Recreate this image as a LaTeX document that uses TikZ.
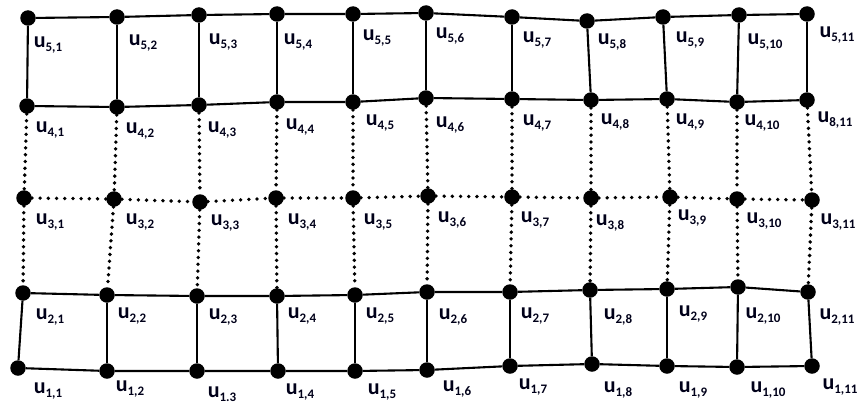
\documentclass[tikz,border=0pt]{standalone}
\usepackage{fontspec}
\setmainfont{Carlito}
\newcommand{\ssub}[1]{\raisebox{-3.5pt}{\fontsize{13}{13}\selectfont #1}}
\begin{document}
\begin{tikzpicture}[x=1pt,y=-1pt,
  dot/.style={circle,fill=black,draw=none,minimum size=15.5pt,inner sep=0pt},
  lab/.style={inner sep=0pt,font=\fontsize{22}{22}\selectfont\bfseries,text=black!90!blue},
  solidedge/.style={line width=2.1pt},
  hdots/.style={line width=3.8pt,line cap=round,dash pattern=on 0pt off 8.2pt},
  vdots/.style={line width=3.8pt,line cap=round,dash pattern=on 0pt off 6.8pt}]
\useasboundingbox (0,0) rectangle (861,404);
% row 5
\node[dot] (n51) at (28,18) {};
\node[dot] (n52) at (117,17) {};
\node[dot] (n53) at (199,15) {};
\node[dot] (n54) at (277,14) {};
\node[dot] (n55) at (353,14) {};
\node[dot] (n56) at (426,13) {};
\node[dot] (n57) at (512,17) {};
\node[dot] (n58) at (587,21) {};
\node[dot] (n59) at (663,17) {};
\node[dot] (n510) at (739,15) {};
\node[dot] (n511) at (807,14) {};
% row 4
\node[dot] (n41) at (27,106) {};
\node[dot] (n42) at (117,107) {};
\node[dot] (n43) at (199,105) {};
\node[dot] (n44) at (277,102) {};
\node[dot] (n45) at (353,102) {};
\node[dot] (n46) at (426,98) {};
\node[dot] (n47) at (512,99) {};
\node[dot] (n48) at (591,100) {};
\node[dot] (n49) at (667,99) {};
\node[dot] (n410) at (737,102) {};
\node[dot] (n411) at (807,100) {};
% row 3
\node[dot] (n31) at (24,198) {};
\node[dot] (n32) at (114,199) {};
\node[dot] (n33) at (200,202) {};
\node[dot] (n34) at (276,198) {};
\node[dot] (n35) at (353,198) {};
\node[dot] (n36) at (428,196) {};
\node[dot] (n37) at (512,197) {};
\node[dot] (n38) at (591,198) {};
\node[dot] (n39) at (670,197) {};
\node[dot] (n310) at (737,199) {};
\node[dot] (n311) at (812,200) {};
% row 2
\node[dot] (n21) at (23,293) {};
\node[dot] (n22) at (107,295) {};
\node[dot] (n23) at (197,296) {};
\node[dot] (n24) at (277,296) {};
\node[dot] (n25) at (355,295) {};
\node[dot] (n26) at (427,292) {};
\node[dot] (n27) at (510,292) {};
\node[dot] (n28) at (590,290) {};
\node[dot] (n29) at (667,289) {};
\node[dot] (n210) at (738,287) {};
\node[dot] (n211) at (808,292) {};
% row 1
\node[dot] (n11) at (18,368) {};
\node[dot] (n12) at (107,371) {};
\node[dot] (n13) at (197,371) {};
\node[dot] (n14) at (278,371) {};
\node[dot] (n15) at (355,371) {};
\node[dot] (n16) at (427,370) {};
\node[dot] (n17) at (510,366) {};
\node[dot] (n18) at (592,364) {};
\node[dot] (n19) at (667,366) {};
\node[dot] (n110) at (737,367) {};
\node[dot] (n111) at (812,366) {};

% solid edges: rows 5 and 4
\draw[solidedge] (n51)--(n52)--(n53)--(n54)--(n55)--(n56)--(n57)--(n58)--(n59)--(n510)--(n511);
\draw[solidedge] (n41)--(n42)--(n43)--(n44)--(n45)--(n46)--(n47)--(n48)--(n49)--(n410)--(n411);
\foreach \c in {1,...,11} {\draw[solidedge] (n5\c)--(n4\c);}
% dotted
\foreach \c in {1,...,11} {\draw[vdots] (n4\c)--(n3\c); \draw[vdots] (n3\c)--(n2\c);}
\draw[hdots] (n31)--(n32)--(n33)--(n34)--(n35)--(n36)--(n37)--(n38)--(n39)--(n310)--(n311);
% solid edges: rows 2 and 1
\draw[solidedge] (n21)--(n22)--(n23)--(n24)--(n25)--(n26)--(n27)--(n28)--(n29)--(n210)--(n211);
\draw[solidedge] (n11)--(n12)--(n13)--(n14)--(n15)--(n16)--(n17)--(n18)--(n19)--(n110)--(n111);
\foreach \c in {1,...,11} {\draw[solidedge] (n2\c)--(n1\c);}

% labels row 5
\node[lab] (t51) at (48,45) {u\ssub{5,1}};
\node[lab] (t52) at (143,43) {u\ssub{5,2}};
\node[lab] (t53) at (223,42) {u\ssub{5,3}};
\node[lab] (t54) at (298,42) {u\ssub{5,4}};
\node[lab] (t55) at (377,38) {u\ssub{5,5}};
\node[lab] (t56) at (450,36) {u\ssub{5,6}};
\node[lab] (t57) at (537,40) {u\ssub{5,7}};
\node[lab] (t58) at (612,42) {u\ssub{5,8}};
\node[lab] (t59) at (690,40) {u\ssub{5,9}};
\node[lab] (t510) at (765,42) {u\ssub{5,10}};
\node[lab] (t511) at (837,35) {u\ssub{5,11}};
% labels row 4
\node[lab] (t41) at (50,130) {u\ssub{4,1}};
\node[lab] (t42) at (140,131) {u\ssub{4,2}};
\node[lab] (t43) at (222,130) {u\ssub{4,3}};
\node[lab] (t44) at (300,127) {u\ssub{4,4}};
\node[lab] (t45) at (380,123) {u\ssub{4,5}};
\node[lab] (t46) at (450,125) {u\ssub{4,6}};
\node[lab] (t47) at (537,123) {u\ssub{4,7}};
\node[lab] (t48) at (615,122) {u\ssub{4,8}};
\node[lab] (t49) at (690,122) {u\ssub{4,9}};
\node[lab] (t410) at (762,123) {u\ssub{4,10}};
\node[lab] (t411) at (835,120) {u\ssub{8,11}};
% labels row 3
\node[lab] (t31) at (50,222) {u\ssub{3,1}};
\node[lab] (t32) at (140,222) {u\ssub{3,2}};
\node[lab] (t33) at (225,223) {u\ssub{3,3}};
\node[lab] (t34) at (302,222) {u\ssub{3,4}};
\node[lab] (t35) at (378,222) {u\ssub{3,5}};
\node[lab] (t36) at (452,220) {u\ssub{3,6}};
\node[lab] (t37) at (535,220) {u\ssub{3,7}};
\node[lab] (t38) at (610,223) {u\ssub{3,8}};
\node[lab] (t39) at (692,218) {u\ssub{3,9}};
\node[lab] (t310) at (764,221) {u\ssub{3,10}};
\node[lab] (t311) at (838,222) {u\ssub{3,11}};
% labels row 2
\node[lab] (t21) at (50,317) {u\ssub{2,1}};
\node[lab] (t22) at (132,316) {u\ssub{2,2}};
\node[lab] (t23) at (223,317) {u\ssub{2,3}};
\node[lab] (t24) at (302,316) {u\ssub{2,4}};
\node[lab] (t25) at (380,316) {u\ssub{2,5}};
\node[lab] (t26) at (453,317) {u\ssub{2,6}};
\node[lab] (t27) at (535,316) {u\ssub{2,7}};
\node[lab] (t28) at (618,317) {u\ssub{2,8}};
\node[lab] (t29) at (693,314) {u\ssub{2,9}};
\node[lab] (t210) at (763,316) {u\ssub{2,10}};
\node[lab] (t211) at (837,317) {u\ssub{2,11}};
% labels row 1
\node[lab] (t11) at (48,391) {u\ssub{1,1}};
\node[lab] (t12) at (130,389) {u\ssub{1,2}};
\node[lab] (t13) at (222,394) {u\ssub{1.3}};
\node[lab] (t14) at (300,392) {u\ssub{1,4}};
\node[lab] (t15) at (382,392) {u\ssub{1,5}};
\node[lab] (t16) at (457,389) {u\ssub{1,6}};
\node[lab] (t17) at (533,387) {u\ssub{1,7}};
\node[lab] (t18) at (618,390) {u\ssub{1,8}};
\node[lab] (t19) at (693,390) {u\ssub{1,9}};
\node[lab] (t110) at (768,390) {u\ssub{1,10}};
\node[lab] (t111) at (840,387) {u\ssub{1,11}};
\end{tikzpicture}
\end{document}
